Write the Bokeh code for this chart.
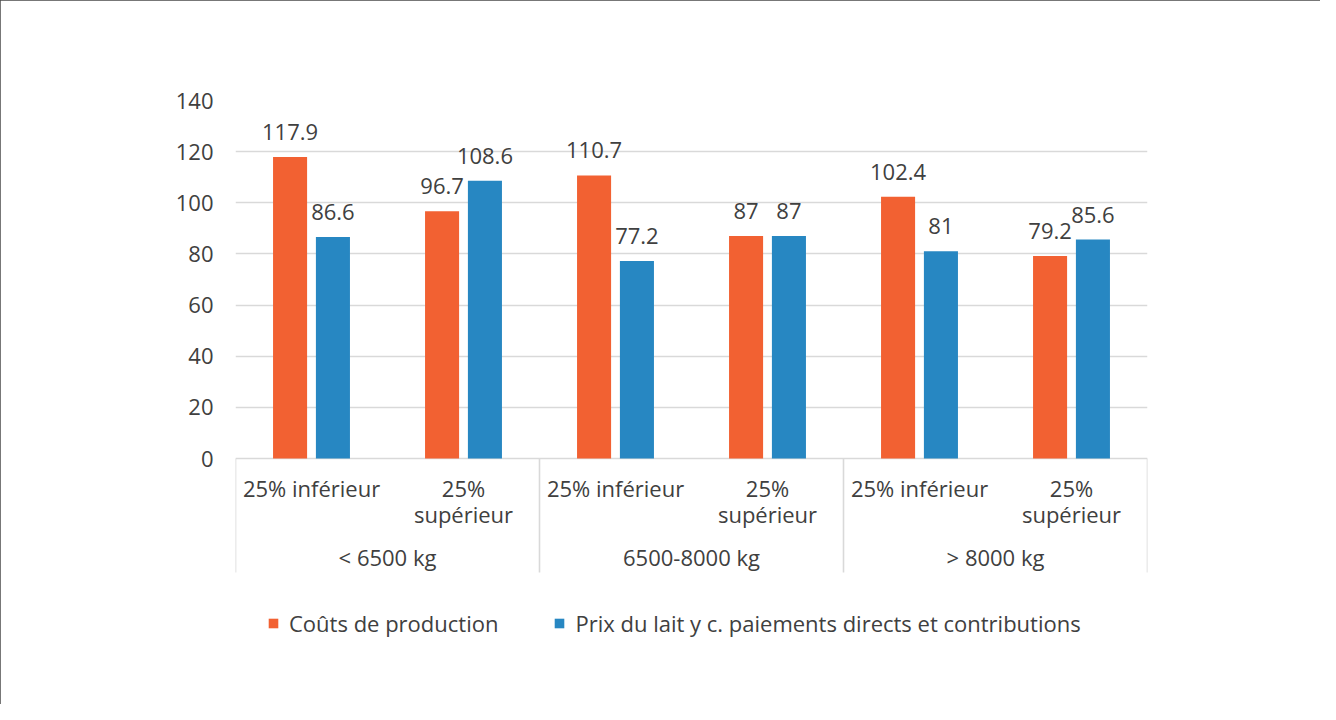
from bokeh.plotting import figure
from bokeh.models import Range1d, FixedTicker, Legend, LegendItem, ColumnDataSource
from bokeh.core.properties import value
from bokeh.embed import file_html
from bokeh.resources import INLINE

# ---- data ----
groups = ["< 6500 kg", "6500-8000 kg", "> 8000 kg"]
subcats = ["25% inférieur", "25%\nsupérieur"]
couts = [117.9, 96.7, 110.7, 87.0, 102.4, 79.2]
prix = [86.6, 108.6, 77.2, 87.0, 81.0, 85.6]
couts_labels = ["117.9", "96.7", "110.7", "87", "102.4", "79.2"]
prix_labels = ["86.6", "108.6", "77.2", "87", "81", "85.6"]
series_names = ["Coûts de production", "Prix du lait y c. paiements directs et contributions"]
y_ticks = [0, 20, 40, 60, 80, 100, 120, 140]

ORANGE = "#F26132"
BLUE = "#2787C2"
TEXT = "#404040"
GRID = "#D9D9D9"
FONT = "Open Sans"
FS = "22px"

W, H = 1320, 704
frame_left, frame_right, frame_top, frame_bottom = 243, 1155, 108, 690
axis_zero_px, axis_bottom_px = 466, 580
px_per_unit = (axis_zero_px - frame_top) / 140.0
y_start = 140 - (frame_bottom - frame_top) / px_per_unit
sep_end = -(axis_bottom_px - axis_zero_px) / px_per_unit

n = len(couts)
p = figure(width=W, height=H, output_backend="svg", toolbar_location=None,
           x_range=Range1d(0, n), y_range=Range1d(y_start, 140),
           min_border_left=frame_left - 8, min_border_right=8 + W - frame_right,
           min_border_top=frame_top - 8, min_border_bottom=8 + H - frame_bottom)
p.styles = {"outline": "2px solid #4a4a4a", "outline-offset": "-2px"}
p.outline_line_color = None
p.xaxis.visible = False
p.xgrid.visible = False
p.background_fill_color = "white"
p.border_fill_color = "white"

yax = p.yaxis[0]
yax.ticker = FixedTicker(ticks=y_ticks)
yax.axis_line_color = None
yax.major_tick_line_color = None
yax.minor_tick_line_color = None
yax.major_tick_out = 0
yax.major_label_standoff = 22
yax.major_label_text_font = FONT
yax.major_label_text_font_size = FS
yax.major_label_text_color = TEXT
p.ygrid.ticker = FixedTicker(ticks=y_ticks)
p.ygrid.grid_line_color = GRID
p.ygrid.grid_line_width = 1.6

# bars
centers = [i + 0.5 for i in range(n)]
off = 0.141
bw = 0.224
src = ColumnDataSource(dict(
    xo=[c - off for c in centers], xb=[c + off for c in centers],
    couts=couts, prix=prix, cl=couts_labels, pl=prix_labels))
r1 = p.vbar(x="xo", top="couts", width=bw, bottom=0, source=src,
            fill_color=ORANGE, line_color=None)
r2 = p.vbar(x="xb", top="prix", width=bw, bottom=0, source=src,
            fill_color=BLUE, line_color=None)

# data labels
for xk, yk, lk in (("xo", "couts", "cl"), ("xb", "prix", "pl")):
    p.text(x=xk, y=yk, text=lk, source=src, text_align="center",
           text_baseline="alphabetic", y_offset=-25,
           text_font=value(FONT), text_font_size=FS, text_color=TEXT)

# category axis separators (vertical lines at group boundaries)
n_sub = len(subcats)
bounds = [g * n_sub for g in range(len(groups) + 1)]
p.segment(x0=bounds, x1=bounds, y0=[0] * len(bounds), y1=[sep_end] * len(bounds),
          line_color=GRID, line_width=1.6)

# sub-category labels (multi-line handled line by line)
sx, sy_off, stext = [], [], []
for i in range(n):
    lines = subcats[i % n_sub].split("\n")
    for j, ln in enumerate(lines):
        sx.append(centers[i])
        sy_off.append(29 + 26 * j)
        stext.append(ln)
p.text(x=sx, y=[0] * len(sx), text=stext, y_offset=sy_off, text_align="center",
       text_baseline="alphabetic", text_font=value(FONT), text_font_size=FS,
       text_color=TEXT)

# group labels
gx = [g * n_sub + n_sub / 2 for g in range(len(groups))]
p.text(x=gx, y=[0] * len(gx), text=groups, y_offset=98, text_align="center",
       text_baseline="alphabetic", text_font=value(FONT), text_font_size=FS,
       text_color=TEXT)

# legend
legend = Legend(items=[LegendItem(label=series_names[0], renderers=[r1]),
                       LegendItem(label=series_names[1], renderers=[r2])],
                orientation="horizontal", location=(32, 44),
                glyph_width=12, glyph_height=12, label_standoff=10, spacing=55,
                padding=0, margin=0, label_text_font=FONT, label_text_font_size=FS,
                label_text_color=TEXT, background_fill_alpha=0,
                border_line_color=None, label_height=24)
p.add_layout(legend, "center")

open("out.html", "w").write(file_html(p, INLINE))
